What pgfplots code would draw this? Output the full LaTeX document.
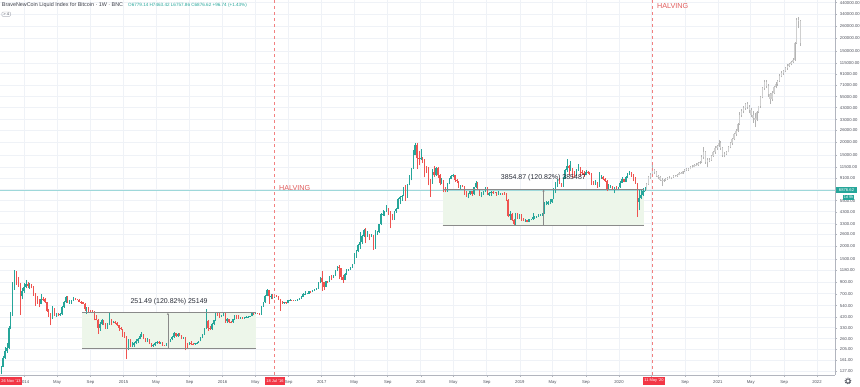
\documentclass[border=0pt]{standalone}
\usepackage{fontspec}
\setmainfont{Liberation Sans}
\usepackage{pgfplots}
\usepackage{pgfplotstable}
\pgfplotsset{compat=1.18}
\usetikzlibrary{arrows.meta}
\definecolor{upc}{HTML}{26A69A}
\definecolor{dnc}{HTML}{EF5350}
\definecolor{gridc}{HTML}{EFF2F7}
\definecolor{txt}{HTML}{50535E}
\definecolor{titc}{HTML}{3C3F4A}
\definecolor{axc}{HTML}{B2B5BE}
\definecolor{halc}{HTML}{F28080}
\definecolor{haltxt}{HTML}{E05A5A}
\definecolor{boxg}{HTML}{EDF6EA}
\definecolor{boxline}{HTML}{8A8A8A}
\definecolor{labc}{HTML}{2A2E39}
\definecolor{plinec}{HTML}{9ED8DA}
\definecolor{redbox}{HTML}{F23645}
\definecolor{projw}{HTML}{B4B4B4}
\definecolor{projb}{HTML}{CFCFCF}

\pgfplotstableread{
i o h l c
0 124 142 118 140
1 140 175 138 170
2 170 215 165 196
3 196 235 190 212
4 212 345 208 330
5 330 470 320 445
6 445 910 430 790
7 790 1180 770 1010
8 1010 1150 860 900
9 900 1010 820 870
10 870 880 440 660
11 660 790 620 745
12 745 880 720 820
13 820 950 790 870
14 870 900 800 830
15 830 890 780 860
16 860 870 790 810
17 810 830 670 690
18 690 720 540 630
19 630 670 560 600
20 600 620 520 565
21 565 690 555 630
22 630 650 600 625
23 625 640 570 580
24 580 590 470 480
25 480 500 420 450
26 450 460 350 420
27 420 540 400 500
28 500 510 430 440
29 440 460 420 440
30 440 460 425 435
31 435 455 430 445
32 445 530 440 520
33 520 600 515 580
34 580 670 575 650
35 650 660 570 590
36 590 610 560 595
37 595 605 560 600
38 600 650 595 630
39 630 640 610 620
40 620 630 605 615
41 615 620 580 590
42 590 595 560 580
43 580 590 560 565
44 565 575 480 500
45 500 525 450 510
46 510 520 470 480
47 480 490 465 475
48 475 485 460 470
49 470 480 390 400
50 400 440 390 395
51 395 405 290 330
52 330 375 310 360
53 360 400 350 390
54 390 395 350 355
55 355 365 320 330
56 330 365 325 360
57 360 470 355 400
58 400 405 350 375
59 375 385 365 378
60 378 385 360 370
61 370 375 345 350
62 350 355 310 330
63 330 335 315 320
64 320 325 270 275
65 275 300 265 270
66 270 275 165 210
67 210 260 200 250
68 250 255 215 225
69 225 240 215 225
70 225 240 215 235
71 235 255 230 245
72 245 265 235 258
73 258 290 255 275
74 275 300 270 285
75 285 290 255 260
76 260 265 240 245
77 245 262 240 255
78 255 260 230 235
79 235 238 215 222
80 222 232 218 226
81 226 240 220 235
82 235 245 232 240
83 240 244 232 236
84 236 243 232 239
85 239 241 222 225
86 225 228 220 223
87 223 238 222 233
88 233 248 230 245
89 245 258 240 255
90 255 275 252 270
91 270 300 265 292
92 292 295 270 275
93 275 295 272 290
94 290 295 275 280
95 280 282 255 262
96 262 270 258 265
97 265 268 200 230
98 230 235 210 228
99 228 240 225 235
100 235 245 228 232
101 232 236 225 231
102 231 238 226 235
103 235 240 233 238
104 238 248 236 246
105 246 268 245 265
106 265 290 262 285
107 285 330 282 325
108 325 495 320 380
109 380 390 310 330
110 330 340 315 325
111 325 365 315 360
112 360 395 355 390
113 390 470 385 455
114 455 470 430 440
115 440 455 410 420
116 420 440 415 430
117 430 460 425 450
118 450 455 370 380
119 380 410 370 400
120 400 405 365 375
121 375 380 365 372
122 372 405 370 400
123 400 440 395 435
124 435 440 400 430
125 430 435 405 410
126 410 420 405 412
127 412 418 405 410
128 410 420 405 415
129 415 425 410 420
130 420 425 415 422
131 422 432 420 430
132 430 465 428 460
133 460 468 440 448
134 448 465 445 460
135 460 462 448 455
136 455 458 435 445
137 445 535 440 530
138 530 590 525 580
139 580 680 575 670
140 670 780 660 760
141 760 770 560 660
142 660 700 620 670
143 670 690 620 650
144 650 680 640 665
145 665 680 650 655
146 655 660 610 620
147 620 630 480 590
148 590 600 560 570
149 570 590 565 580
150 580 585 565 575
151 575 610 570 605
152 605 620 600 610
153 610 615 600 605
154 605 610 595 600
155 600 615 598 612
156 612 620 608 615
157 615 645 612 640
158 640 660 630 655
159 655 720 650 700
160 700 740 680 705
161 705 720 690 705
162 705 750 700 740
163 740 745 720 730
164 730 770 725 765
165 765 780 755 770
166 770 795 765 790
167 790 900 785 890
168 890 1020 880 1000
169 1000 1150 750 900
170 900 910 760 820
171 820 930 810 920
172 920 925 880 915
173 915 1030 910 1020
174 1020 1060 960 1000
175 1000 1060 990 1050
176 1050 1190 1045 1180
177 1180 1290 1150 1270
178 1270 1330 970 1230
179 1230 1250 960 1020
180 1020 1060 890 960
181 960 1100 950 1080
182 1080 1200 1070 1190
183 1190 1210 1160 1200
184 1200 1260 1190 1250
185 1250 1360 1240 1350
186 1350 1720 1340 1700
187 1700 1850 1560 1800
188 1800 2100 1750 2050
189 2050 2750 1900 2200
190 2200 2550 2100 2500
191 2500 2950 2450 2900
192 2900 2990 2150 2500
193 2500 2800 2450 2600
194 2600 2650 2300 2500
195 2500 2650 2450 2500
196 2500 2550 1850 1950
197 1950 2900 1900 2750
198 2750 2800 2600 2750
199 2750 3300 2700 3250
200 3250 4150 3200 4050
201 4050 4450 3950 4100
202 4100 4400 3900 4350
203 4350 4950 4300 4600
204 4600 4650 4000 4200
205 4200 4350 2980 3700
206 3700 4100 3550 3650
207 3650 4400 3600 4350
208 4350 4650 4200 4600
209 4600 5800 4550 5700
210 5700 6150 5100 6000
211 6000 6200 5450 6100
212 6100 7500 6050 7400
213 7400 7800 5500 5900
214 5900 8000 5850 7800
215 7800 9700 7700 9650
216 9650 11400 8600 11300
217 11300 17000 11200 15000
218 15000 19700 15000 19000
219 19000 19500 11000 14000
220 14000 16500 12000 13800
221 13800 17200 13500 14000
222 14000 14500 12600 13500
223 13500 13800 9200 11500
224 11500 11900 10100 11200
225 11200 11700 7700 8200
226 8200 8800 6000 8100
227 8100 11000 8000 10300
228 10300 11800 9300 9600
229 9600 11600 9400 11400
230 11400 11700 9100 9600
231 9600 9900 7700 8200
232 8200 9100 8000 8500
233 8500 8700 6600 7000
234 7000 7500 6600 6900
235 6900 8200 6700 8000
236 8000 9000 7900 8900
237 8900 9750 8800 9400
238 9400 9950 9200 9600
239 9600 9700 8400 8700
240 8700 8900 8100 8500
241 8500 8550 7300 7400
242 7400 7750 7100 7700
243 7700 7750 7400 7500
244 7500 7600 6300 6500
245 6500 6800 5950 6150
246 6150 6500 5800 6400
247 6400 6850 6300 6750
248 6750 6800 6100 6350
249 6350 7500 6300 7400
250 7400 8500 7300 8200
251 8200 8250 6900 7000
252 7000 7150 6100 6300
253 6300 6600 5900 6400
254 6400 6800 6250 6700
255 6700 7400 6650 7300
256 7300 7400 6200 6250
257 6250 6600 6150 6500
258 6500 6800 6150 6700
259 6700 6850 6400 6600
260 6600 6700 6450 6600
261 6600 6650 6100 6300
262 6300 6800 6250 6400
263 6400 6500 6350 6420
264 6420 6550 6300 6400
265 6400 6600 6350 6380
266 6380 6450 5500 5600
267 5600 5650 3800 3950
268 3950 4400 3600 4100
269 4100 4200 3500 3600
270 3600 3650 3200 3250
271 3250 4200 3200 3900
272 3900 4200 3700 3800
273 3800 4100 3650 4000
274 4000 4100 3500 3600
275 3600 3750 3500 3550
276 3550 3650 3450 3550
277 3550 3600 3400 3450
278 3450 3700 3400 3650
279 3650 3700 3580 3650
280 3650 4200 3620 3850
281 3850 3900 3700 3850
282 3850 3950 3750 3900
283 3900 4050 3850 4000
284 4000 4100 3950 4000
285 4000 4150 3950 4100
286 4100 5300 4100 5100
287 5100 5450 4950 5100
288 5100 5400 5050 5300
289 5300 5650 5150 5300
290 5300 5750 5250 5700
291 5700 7200 5700 7000
292 7000 8300 6500 8100
293 8100 8900 7500 8700
294 8700 9100 7900 8000
295 8000 8200 7450 7600
296 7600 9300 7500 8900
297 8900 11200 8900 10800
298 10800 13800 10300 11900
299 11900 12000 9700 11300
300 11300 13200 10700 11350
301 11350 11400 9100 10500
302 10500 10600 9200 9500
303 9500 11000 9400 10800
304 10800 12300 10700 11400
305 11400 11500 9500 10300
306 10300 10900 9800 10100
307 10100 10500 9350 9600
308 9600 10900 9600 10400
309 10400 10500 9950 10300
310 10300 10400 9800 10000
311 10000 10100 7800 8000
312 8000 8500 7800 7900
313 7900 8700 7850 8300
314 8300 8400 7300 8200
315 8200 10300 7400 9200
316 9200 9600 8900 9200
317 9200 9500 8700 8800
318 8800 9100 8400 8500
319 8500 8600 6800 7100
320 7100 7900 7000 7400
321 7400 7700 7200 7500
322 7500 7600 7000 7100
323 7100 7500 6450 7500
324 7500 7650 7100 7300
325 7300 7500 6900 7400
326 7400 8450 7350 8200
327 8200 9200 8100 8900
328 8900 8950 8250 8350
329 8350 9550 8300 9350
330 9350 10100 9150 9900
331 9900 10500 9750 10350
332 10350 10400 9300 9700
333 9700 9950 8450 8550
334 8550 9200 8000 8050
335 8050 8100 3850 5350
336 5350 6900 4450 5850
337 5850 6900 5700 6250
338 6250 7200 6150 6780
339 6779.14 7463.42 6757.86 6876.62
}\realtab

\pgfplotstableread{
i o h l c
340 6876 8100 6800 7900
341 7900 9500 7800 9300
342 9300 10200 8900 9700
343 9700 12000 9500 10800
344 10800 11200 9900 10300
345 10300 10500 9300 9500
346 9500 9800 8800 9200
347 9200 9400 8500 8700
348 8700 9000 7600 8600
349 8600 8900 8400 8700
350 8700 9000 8500 8800
351 8800 9200 8700 9100
352 9100 9400 8900 9000
353 9000 9300 8800 9200
354 9200 9600 9100 9500
355 9500 9700 9300 9400
356 9400 9900 9300 9800
357 9800 10300 9700 10100
358 10100 10400 9900 10000
359 10000 10700 9900 10500
360 10500 11000 10300 10800
361 10800 11300 10600 11000
362 11000 11400 10700 11200
363 11200 11800 11000 11500
364 11500 12000 11300 11700
365 11700 12400 11500 12100
366 12100 12600 11800 12000
367 12000 12900 11900 12600
368 12600 13200 12300 12800
369 12800 15000 12700 14500
370 14500 18000 13800 16000
371 16000 16500 12500 13000
372 13000 14000 11500 13400
373 13400 14200 12800 13600
374 13600 15000 13300 14700
375 14700 16500 14500 16000
376 16000 18500 15500 17800
377 17800 19000 17000 18500
378 18500 21000 18000 19800
379 19800 20500 17000 17500
380 17500 18000 14500 15000
381 15000 16000 14300 15500
382 15500 16500 15000 16200
383 16200 18500 16000 18000
384 18000 20000 17500 19500
385 19500 22000 19000 21500
386 21500 24500 21000 24000
387 24000 27000 23000 25700
388 25700 31000 25000 30000
389 30000 39000 29500 37000
390 37000 42000 35000 40000
391 40000 45000 38000 43000
392 43000 48000 41000 46700
393 46700 48500 42000 44000
394 44000 46000 38000 41000
395 41000 43000 35000 37000
396 37000 40000 31000 34000
397 34000 38000 28000 33000
398 33000 40000 32000 39000
399 39000 45000 38000 44500
400 44500 56000 43000 55000
401 55000 68000 53000 66000
402 66000 80000 64000 76000
403 76000 79000 66000 70000
404 70000 72000 55000 58000
405 58000 60000 47000 52000
406 52000 62000 50000 60000
407 60000 70000 58000 68000
408 68000 76000 66000 73000
409 73000 80000 70000 78000
410 78000 90000 76000 86000
411 86000 96000 84000 93000
412 93000 100000 89000 97000
413 97000 106000 94000 103000
414 103000 112000 100000 109000
415 109000 116000 105000 113000
416 113000 122000 110000 118000
417 118000 128000 115000 124000
418 124000 185000 122000 180000
419 180000 310000 178000 300000
420 300000 320000 250000 290000
421 290000 300000 170000 180000
}\projtab

\pgfplotsset{
  cwick/.style={draw=none, mark=none, forget plot,
    error bars/y dir=plus, error bars/y explicit, error bars/error mark=none,
    error bars/error bar style={line width=0.5pt, draw=#1}},
  cbody/.style={draw=none, mark=none, forget plot,
    error bars/y dir=plus, error bars/y explicit, error bars/error mark=none,
    error bars/error bar style={line width=1.3pt, draw=#1}},
}

\begin{document}
\begin{tikzpicture}
\path[use as bounding box] (0,0) rectangle (860pt,386pt);
\fill[white] (0,0) rectangle (860pt,386pt);
\begin{axis}[
  at={(0pt,11pt)}, anchor=south west,
  scale only axis, width=835pt, height=375pt,
  ymode=log, ymin=116.2, ymax=466100,
  xmin=-0.643, xmax=439.2,
  axis x line*=bottom, axis y line*=right,
  axis line style={draw=axc, line width=0.8pt},
  xtick={12.26,29.43,47.01,64.44,81.6,99.2,116.6,133.9,151.4,168.8,186.0,203.6,221.0,238.2,255.8,273.2,290.4,308.0,325.4,342.6,360.2,377.5,394.8,412.4,429.7},
  xticklabels={2014,May,Sep,2015,May,Sep,2016,May,Sep,2017,May,Sep,2018,May,Sep,2019,May,Sep,2020,,Sep,2021,May,Sep,2022},
  ytick={127,161,205,260,330,420,540,700,900,1180,1500,2000,2600,3300,4300,5500,7100,9100,11500,15000,20000,26000,33000,43000,55000,71000,91000,115000,150000,200000,260000,340000,440000},
  yticklabels={127.00,161.00,205.00,260.00,330.00,420.00,540.00,700.00,900.00,1180.00,1500.00,2000.00,2600.00,3300.00,4300.00,5500.00,,9100.00,11500.00,15000.00,20000.00,26000.00,33000.00,43000.00,55000.00,71000.00,91000.00,115000.00,150000.00,200000.00,260000.00,340000.00,440000.00},
  tick align=outside, major tick length=2pt,
  tick style={draw=axc, line width=0.5pt},
  grid=major, major grid style={draw=gridc, line width=0.7pt},
  ticklabel style={font=\fontsize{4.2}{5}\selectfont, text=txt},
  yticklabel style={anchor=west, xshift=-0.6pt},
]
% measurement boxes (fill)
\fill[boxg] (axis cs:42.6,208.15) rectangle (axis cs:134.2,459.64);
\fill[boxg] (axis cs:232.5,3190.6) rectangle (axis cs:338.6,7045.5);
% price line
\draw[plinec, line width=0.8pt] (axis cs:-0.643,6876.62) -- (axis cs:439.2,6876.62);
% candles
\addplot[cwick=upc] table[x expr={\thisrow{c}<\thisrow{o} ? nan : \thisrow{i}}, y=l, y error plus expr={\thisrow{h}-\thisrow{l}}]{\realtab};
\addplot[cbody=upc] table[x expr={\thisrow{c}<\thisrow{o} ? nan : \thisrow{i}}, y=o, y error plus expr={\thisrow{c}-\thisrow{o}}]{\realtab};
\addplot[cwick=dnc] table[x expr={\thisrow{c}<\thisrow{o} ? \thisrow{i} : nan}, y=l, y error plus expr={\thisrow{h}-\thisrow{l}}]{\realtab};
\addplot[cbody=dnc] table[x expr={\thisrow{c}<\thisrow{o} ? \thisrow{i} : nan}, y=c, y error plus expr={\thisrow{o}-\thisrow{c}}]{\realtab};
\addplot[cwick=projw] table[x=i, y=l, y error plus expr={\thisrow{h}-\thisrow{l}}]{\projtab};
\addplot[cbody=projb] table[x=i, y expr={min(\thisrow{o},\thisrow{c})}, y error plus expr={abs(\thisrow{c}-\thisrow{o})}]{\projtab};
% measurement box lines and arrows
\draw[boxline, line width=0.8pt] (axis cs:42.6,459.64) -- (axis cs:134.2,459.64);
\draw[boxline, line width=0.8pt] (axis cs:42.6,208.15) -- (axis cs:134.2,208.15);
\draw[boxline, line width=0.6pt, -{Stealth[length=2.2pt,width=2.2pt]}] (axis cs:87.8,208.15) -- (axis cs:87.8,459.64);
\draw[boxline, line width=0.8pt] (axis cs:232.5,7045.5) -- (axis cs:338.6,7045.5);
\draw[boxline, line width=0.8pt] (axis cs:232.5,3190.6) -- (axis cs:338.6,3190.6);
\draw[boxline, line width=0.6pt, -{Stealth[length=2.2pt,width=2.2pt]}] (axis cs:285.7,3190.6) -- (axis cs:285.7,7045.5);
\node[font=\fontsize{7}{8}\selectfont, text=labc, inner sep=0pt] at (axis cs:88.4,584) {251.49 (120.82\%) 25149};
\node[font=\fontsize{7}{8}\selectfont, text=labc, inner sep=0pt] at (axis cs:285.6,9080) {3854.87 (120.82\%) 385487};
% halving lines
\draw[halc, line width=1pt, dash pattern=on 3pt off 3pt] (axis cs:143.8,116.2) -- (axis cs:143.8,466100);
\draw[halc, line width=1pt, dash pattern=on 3pt off 3pt] (axis cs:343.3,116.2) -- (axis cs:343.3,466100);
\node[anchor=west, inner sep=0pt, font=\fontsize{7.2}{8}\selectfont, text=haltxt] at (axis cs:146.3,7280) {HALVING};
\node[anchor=west, inner sep=0pt, font=\fontsize{7.2}{8}\selectfont, text=haltxt] at (axis cs:345.4,408000) {HALVING};
\end{axis}
% header
\node[anchor=base west, inner sep=0pt, font=\fontsize{5.4}{6}\selectfont, text=titc] at (1.7pt,379pt) {BraveNewCoin Liquid Index for Bitcoin · 1W · BNC};
\node[anchor=base west, inner sep=0pt, font=\fontsize{4.6}{6}\selectfont, text=upc] at (128pt,379pt) {O6779.14 H7463.42 L6757.86 C6876.62 +96.74 (+1.43\%)};
\node[draw=axc, rounded corners=1pt, line width=0.4pt, inner xsep=1.5pt, inner ysep=0.8pt, font=\fontsize{4}{4}\selectfont, text=txt, anchor=west] at (1.7pt,371.8pt) {> 4};
% bottom date markers
\node[fill=redbox, text=white, font=\fontsize{4}{5}\selectfont, inner xsep=1.2pt, inner ysep=0pt, minimum height=8pt, anchor=west] at (0pt,5pt) {26 Nov '13};
\node[fill=redbox, text=white, font=\fontsize{4}{5}\selectfont, inner xsep=1.2pt, inner ysep=0pt, minimum height=8pt] at (275pt,5pt) {18 Jul '16};
\node[fill=redbox, text=white, font=\fontsize{4}{5}\selectfont, inner xsep=1.2pt, inner ysep=0pt, minimum height=8pt] at (654pt,5pt) {11 May '20};
% price labels on right scale
\node[fill=upc, text=white, font=\fontsize{4.2}{5}\selectfont, inner sep=0pt, minimum width=21pt, minimum height=5.5pt] at (846.5pt,196pt) {6876.62};
\node[fill=upc, text=white, font=\fontsize{3.8}{5}\selectfont, inner sep=0pt, minimum width=11pt, minimum height=5pt] at (848.5pt,188.5pt) {1d 9h};
% settings gear
\draw[txt, line width=0.7pt] (848pt,5pt) circle (2pt);
\draw[txt, line width=0.9pt, dash pattern=on 1pt off 1pt] (848pt,5pt) circle (2.9pt);
\end{tikzpicture}
\end{document}
